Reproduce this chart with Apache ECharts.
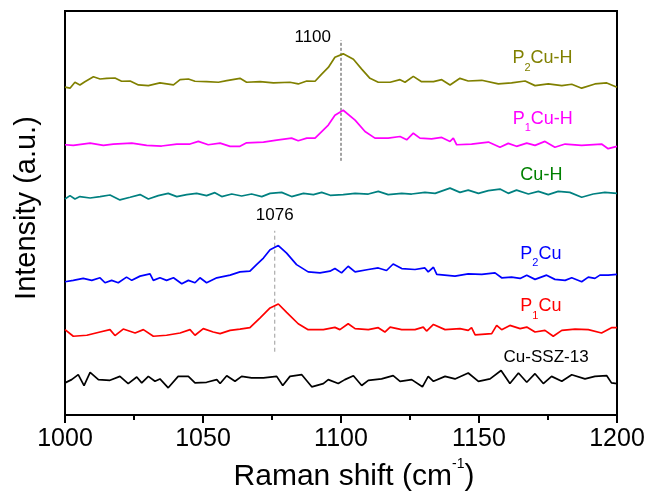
<!DOCTYPE html>
<html>
<head>
<meta charset="utf-8">
<script src="https://cdn.jsdelivr.net/npm/echarts@6/dist/echarts.min.js"></script>
<style>
  html, body { margin: 0; padding: 0; background: #fff; }
  #chart { width: 651px; height: 497px; }
</style>
</head>
<body>
<div id="chart"></div>
<script>
// Raman spectra, stacked with vertical offsets (arbitrary intensity units)
// Each entry: [Raman shift (cm^-1), offset intensity]
const p2CuH = [
  [1000,332.7],[1001.8,331.7],[1003.6,337.7],[1005.4,335],[1007.2,338.3],[1010.3,343.3],[1012.7,341],
  [1015.1,341.7],[1018.1,342],[1020.5,338.7],[1023.6,339],[1026.6,335],[1030.2,334.3],[1034.4,337],
  [1039.3,335],[1041.7,340.3],[1044.7,341],[1047.1,338.7],[1051.3,338.3],[1055.6,337.7],[1058.6,339.3],
  [1063.4,341.7],[1065.8,337.7],[1070.7,338.3],[1075.5,337],[1081.5,337.7],[1084.5,336],[1087.6,339],
  [1090.6,338.7],[1093.0,346],[1095.4,352.7],[1097.8,363],[1100.8,366.5],[1104.5,361],[1107.5,351],
  [1110.5,341.7],[1113.5,337.7],[1117.8,337.7],[1121.4,340.3],[1123.2,337.7],[1126.2,343.7],[1129.2,338.3],
  [1133.5,338.3],[1136.5,340.3],[1139.5,335],[1143.1,341.7],[1146.1,339],[1151,339.7],[1157,336],
  [1161.8,337],[1166.7,339],[1170.3,334.3],[1175.1,336],[1180,334.3],[1183.6,335.7],[1187.2,331.7],
  [1192,336],[1196.3,337],[1200,332.7]
];
const p1CuH = [
  [1000,274.3],[1003,273.7],[1009.1,276],[1013.9,273.7],[1017.5,275],[1024.2,276],[1029.6,273.7],
  [1035,273],[1040.5,275],[1045.3,275],[1048.3,277.7],[1051.9,274.3],[1056.2,276],[1059.8,272.7],
  [1063.4,272.7],[1065.8,276.3],[1071.9,277],[1076.7,279],[1082.1,281],[1084.5,278.3],[1087.6,281],
  [1090.6,281],[1093,287.7],[1095.4,294.3],[1097.8,304.3],[1100.8,309.3],[1105.1,299.3],[1108.7,287.7],
  [1112.3,281],[1117.1,281],[1121.4,282.7],[1123.8,279.3],[1126.2,286],[1128.6,281],[1132.8,280.3],
  [1136.5,281.7],[1139.5,277.7],[1140.7,281],[1141.9,274.3],[1147.3,275],[1153.4,277],[1157.6,271.7],
  [1160.6,275.7],[1163.6,272.7],[1167.3,276],[1170.3,273.7],[1173.9,277.7],[1177.5,271.7],[1181.2,275],
  [1187.2,273.7],[1194.4,275],[1196.8,270.3],[1200,272.7]
];
const cuH = [
  [1000,219.3],[1001.8,222.7],[1003.6,219.3],[1005.4,221.7],[1009.1,220.3],[1012.7,221.7],[1016.3,223.3],
  [1019.9,218.3],[1023.6,221],[1027.2,223.7],[1030.2,219.3],[1033.8,222.7],[1037.4,225],[1040.5,221.7],
  [1044.1,223.7],[1047.7,225],[1051.3,222.7],[1054.3,225.7],[1056.8,221.7],[1060.4,224.3],[1064,222.3],
  [1067.6,224.3],[1071.3,221.7],[1074.3,225],[1078.5,226],[1082.1,221.7],[1086.4,225],[1090,223.7],
  [1093,226],[1096.1,223],[1100.8,223.7],[1105.1,225],[1109.9,224.3],[1113.5,227],[1117.1,223.7],
  [1122,225],[1125.6,224.3],[1130.4,226],[1134.1,225],[1139.5,230.3],[1143.1,226],[1146.1,228.3],
  [1149.8,225],[1153.4,227.7],[1157.6,229.3],[1160.6,225],[1163.6,228.3],[1167.9,224.3],[1171.5,227],
  [1175.1,223.7],[1178.7,227],[1182.9,226],[1187.2,221],[1191.4,224.3],[1195.6,226],[1200,225]
];
const p2Cu = [
  [1000,135.3],[1003,136.7],[1006.6,138.7],[1009.7,136.7],[1012.7,139.3],[1014.5,134.3],[1016.9,136.7],
  [1019.3,134.3],[1022.3,140],[1024.2,136.7],[1027.2,141],[1030.8,143.3],[1032,136.7],[1034.4,139.3],
  [1036.8,136.7],[1039.3,139.3],[1042.3,133.3],[1044.7,136.7],[1047.1,134.3],[1048.9,139.3],[1051.3,134.3],
  [1055,139.3],[1059.8,142],[1063.4,145.3],[1067,146],[1069.4,152.7],[1071.9,159.3],[1074.3,167.7],
  [1077.3,172],[1080.3,164.3],[1083.9,152.7],[1088.1,145.3],[1092.4,144.3],[1096,146],[1097.8,148.7],
  [1100.2,144.3],[1102.6,151],[1105.1,145.3],[1109.9,147.7],[1113.5,149.3],[1116.5,146.7],[1118.9,153.3],
  [1122,148.7],[1126.8,147.7],[1130.4,149.3],[1131.6,145.3],[1133.5,150],[1134.7,142.7],[1141.3,141],
  [1146.1,143.3],[1151,142.7],[1155.8,144.3],[1158.2,139.3],[1161.8,140],[1164.9,138.7],[1167.3,142],
  [1170.3,137.7],[1174.5,142],[1177.5,137.7],[1181.2,136.7],[1183.6,139.3],[1187.2,135.3],[1189.6,140],
  [1192,138.7],[1193.8,142],[1196.8,142],[1200,142.7]
];
const p1Cu = [
  [1000,86.7],[1003,80],[1007.9,81],[1012.7,84.3],[1016.3,86.7],[1018.1,80.7],[1021.1,87.3],
  [1025.4,83.3],[1028.4,86.7],[1032,80],[1036.8,81],[1041.7,83.3],[1045.3,86.7],[1047.1,81],
  [1050.1,87.7],[1053.7,84.3],[1056.2,82.7],[1059.8,86],[1063.4,87.3],[1067,88.7],[1070.7,98.7],
  [1074.3,108.7],[1077.3,112.7],[1080.3,104.3],[1084.5,92.7],[1088.1,86.7],[1093.6,86.7],[1097.8,89],
  [1099.6,86.7],[1102.6,92.7],[1105.1,87.7],[1109.9,86.7],[1113.5,88.7],[1115.9,84.3],[1117.8,89.3],
  [1122,86.7],[1126.8,86.7],[1129.8,89.3],[1131,85.3],[1133.5,92],[1137.7,86.7],[1143.1,87.7],
  [1146.1,86],[1147.3,88.7],[1148.6,81.3],[1154.6,82.7],[1156.4,91],[1158.2,86.7],[1161.2,91],
  [1164.9,87.7],[1167.3,89.3],[1170.3,84.3],[1173.9,86],[1176.9,80],[1180,86],[1184.8,87.3],
  [1189.6,86.7],[1194.4,83.3],[1198,88.7],[1200,88.7]
];
const cuSSZ13 = [
  [1000,32.7],[1002.4,36],[1004.8,41],[1006.9,30],[1009.1,43.3],[1012.1,36],[1016.3,35.3],
  [1019.9,39.3],[1022.9,32],[1026,38.7],[1027.8,32.7],[1030.2,39.3],[1032.6,34.3],[1034.4,36.7],
  [1037.4,27.7],[1041,39.3],[1044.7,39.3],[1047.1,32.7],[1051.3,33.3],[1055,36],[1056.2,32],
  [1058.6,40],[1061.6,34.3],[1064,39.3],[1067.6,37.7],[1071.9,37.7],[1076.7,39.3],[1078.9,30],
  [1081.5,39.3],[1085.8,41],[1089.4,28.7],[1093.6,32],[1095.4,36],[1099,32],[1101.4,36],
  [1104.5,40],[1107.5,30],[1109.9,35.3],[1114.7,36.7],[1118.9,40],[1121.4,34.3],[1125.6,36],
  [1129.5,28.7],[1131.6,39.3],[1133.5,34.3],[1137.7,39.3],[1141.3,36.7],[1146.1,42.7],[1149.8,34.3],
  [1154,36.7],[1158,45.3],[1161.2,32],[1164.3,42.7],[1167.3,33.3],[1170.3,42],[1173.3,32],
  [1176.3,39.3],[1180,34.3],[1183.6,41],[1188.4,36.7],[1192,39.3],[1196.3,40],[1198,32.7],[1200,32]
];

// Peak guide lines: [shift, lower end, upper end]
const peak1100 = [1100, 258, 380.3];
const peak1076 = [1076, 64.3, 187];

// Tick labels along the Raman-shift axis
const xTicks = [1000, 1050, 1100, 1150, 1200];

// Sample names: [rich-text label, anchor shift, anchor intensity, text colour, font size]
const sampleLabels = [
  ['{a|P}{s|2}{a|Cu-H}', 1173.0, 362, '#808000', 18],
  ['{a|P}{s|1}{a|Cu-H}', 1173.1, 300.7, '#ff00ff', 18],
  ['{a|Cu-H}', 1172.6, 243.2, '#008000', 18],
  ['{a|P}{s|2}{a|Cu}', 1172.4, 163.5, '#0000ff', 18],
  ['{a|P}{s|1}{a|Cu}', 1172.4, 110.2, '#ff0000', 18],
  ['{a|Cu-SSZ-13}', 1174.3, 59, '#000000', 17]
];

const FONT = 'Liberation Sans, Arial, sans-serif';

function sampleMark(idx) {
  const [text, x, y, color, size] = sampleLabels[idx];
  return {
    symbol: 'circle',
    symbolSize: 0,
    silent: true,
    data: [{
      coord: [x, y],
      label: {
        show: true,
        position: 'inside',
        formatter: text,
        rich: {
          a: { fontFamily: FONT, fontSize: size, color: color, lineHeight: 30, verticalAlign: 'middle' },
          s: { fontFamily: FONT, fontSize: 11, color: color, lineHeight: 8, verticalAlign: 'bottom' }
        }
      }
    }]
  };
}

function spectrum(name, data, color, idx) {
  return {
    name: name,
    type: 'line',
    data: data,
    showSymbol: false,
    symbol: 'none',
    lineStyle: { color: color, width: 1.7 },
    z: 3,
    markPoint: sampleMark(idx)
  };
}

function guide(peak, color, dash, labelCfg) {
  return {
    type: 'line',
    data: [[peak[0], peak[1]], [peak[0], peak[2]]],
    showSymbol: false,
    symbol: 'none',
    lineStyle: { color: color, width: 1, type: dash },
    z: 2,
    markPoint: {
      symbol: 'circle',
      symbolSize: 0,
      silent: true,
      data: [{
        coord: [peak[0], peak[2]],
        label: Object.assign({
          show: true,
          formatter: String(peak[0]),
          color: '#000',
          fontFamily: FONT,
          fontSize: 17
        }, labelCfg)
      }]
    }
  };
}

const chart = echarts.init(document.getElementById('chart'), null, { renderer: 'canvas' });

chart.setOption({
  animation: false,
  backgroundColor: '#ffffff',
  grid: {
    left: 65, right: 34, top: 11, bottom: 76,
    show: true, borderColor: '#000', borderWidth: 2, backgroundColor: 'transparent'
  },
  xAxis: {
    type: 'value',
    min: xTicks[0],
    max: xTicks[xTicks.length - 1],
    interval: 50,
    name: '{a|Raman shift (cm}{sup|-1}{a|)}',
    nameLocation: 'middle',
    nameGap: 34,
    nameTextStyle: {
      padding: [0, 0, 0, 26],
      rich: {
        a: { fontFamily: FONT, fontSize: 30, color: '#000', lineHeight: 40, verticalAlign: 'middle' },
        sup: { fontFamily: FONT, fontSize: 14, color: '#000', lineHeight: 6, verticalAlign: 'top' }
      }
    },
    axisLine: { show: true, onZero: false, lineStyle: { color: '#000', width: 2 } },
    axisTick: { show: true, length: 8, lineStyle: { color: '#000', width: 2 } },
    minorTick: { show: true, splitNumber: 2, length: 5, lineStyle: { color: '#000', width: 2 } },
    axisLabel: {
      fontFamily: FONT, fontSize: 25, color: '#000', margin: 12,
      formatter: function (v) { return String(v); }
    },
    splitLine: { show: false }
  },
  yAxis: {
    type: 'value',
    min: 0,
    max: 410,
    name: 'Intensity (a.u.)',
    nameLocation: 'middle',
    nameGap: 24,
    nameTextStyle: { fontFamily: FONT, fontSize: 29, color: '#000', padding: [0, 0, 0, 10] },
    axisLine: { show: true, lineStyle: { color: '#000', width: 2 } },
    axisTick: { show: false },
    axisLabel: { show: false },
    splitLine: { show: false }
  },
  series: [
    spectrum('P2Cu-H', p2CuH, '#808000', 0),
    spectrum('P1Cu-H', p1CuH, '#ff00ff', 1),
    spectrum('Cu-H', cuH, '#008080', 2),
    spectrum('P2Cu', p2Cu, '#0000ff', 3),
    spectrum('P1Cu', p1Cu, '#ff0000', 4),
    spectrum('Cu-SSZ-13', cuSSZ13, '#000000', 5),
    guide(peak1100, '#444444', [3, 2], { position: 'left', distance: 10, offset: [0, -3] }),
    guide(peak1076, '#9a9a9a', [4, 3], { position: 'top', distance: 7 })
  ]
});
</script>
</body>
</html>
